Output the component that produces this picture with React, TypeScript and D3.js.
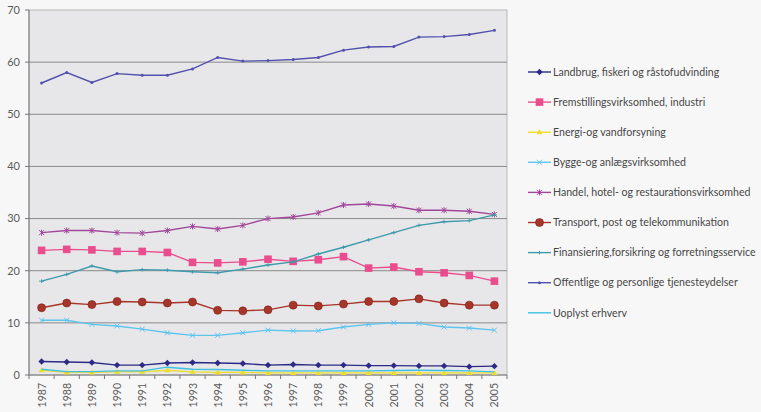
import React from "react";
import * as d3 from "d3";

const years = ["1987","1988","1989","1990","1991","1992","1993","1994","1995","1996","1997","1998","1999","2000","2001","2002","2003","2004","2005"];

const landbrug = [2.6,2.5,2.4,1.9,1.9,2.3,2.4,2.3,2.2,1.9,2.0,1.9,1.9,1.8,1.8,1.75,1.75,1.6,1.7];
const fremstilling = [23.9,24.1,24.0,23.7,23.7,23.5,21.6,21.5,21.7,22.2,21.8,22.1,22.7,20.5,20.7,19.8,19.6,19.1,18.0];
const energi = [0.9,0.5,0.5,0.6,0.6,0.9,0.6,0.5,0.5,0.4,0.4,0.4,0.4,0.4,0.4,0.4,0.4,0.4,0.4];
const bygge = [10.5,10.5,9.7,9.4,8.8,8.1,7.6,7.6,8.1,8.6,8.45,8.5,9.2,9.7,10.0,9.9,9.2,9.0,8.6];
const handel = [27.3,27.7,27.7,27.3,27.2,27.7,28.5,28.0,28.7,30.0,30.3,31.1,32.6,32.8,32.4,31.6,31.6,31.4,30.8];
const transport = [12.9,13.8,13.5,14.1,14.0,13.8,14.0,12.4,12.3,12.5,13.4,13.25,13.6,14.1,14.1,14.6,13.8,13.4,13.4];
const finansiering = [18.0,19.3,20.9,19.8,20.2,20.1,19.8,19.6,20.3,21.1,21.7,23.2,24.5,25.9,27.3,28.7,29.4,29.6,30.7];
const offentlige = [56.0,58.0,56.1,57.8,57.5,57.5,58.7,60.9,60.2,60.3,60.5,60.9,62.3,62.9,63.0,64.8,64.9,65.3,66.1];
const uoplyst = [1.1,0.65,0.65,0.8,0.8,1.5,1.1,1.05,0.9,0.8,0.8,0.8,0.8,0.8,0.85,0.9,0.85,0.8,0.6];

const yTicks = [0,10,20,30,40,50,60,70];

type Marker = "diamond" | "square" | "triangle" | "x" | "star" | "circle" | "dash" | "dot" | "none";

const series: { name: string; values: number[]; color: string; marker: Marker }[] = [
  { name: "Landbrug, fiskeri og råstofudvinding", values: landbrug, color: "#2c2a86", marker: "diamond" },
  { name: "Fremstillingsvirksomhed, industri", values: fremstilling, color: "#ea4d8e", marker: "square" },
  { name: "Energi-og vandforsyning", values: energi, color: "#eedc2a", marker: "triangle" },
  { name: "Bygge-og anlægsvirksomhed", values: bygge, color: "#5ec4ee", marker: "x" },
  { name: "Handel, hotel- og restaurationsvirksomhed", values: handel, color: "#a1479a", marker: "star" },
  { name: "Transport, post og telekommunikation", values: transport, color: "#a8352a", marker: "circle" },
  { name: "Finansiering,forsikring og forretningsservice", values: finansiering, color: "#3f9aac", marker: "dash" },
  { name: "Offentlige og personlige tjenesteydelser", values: offentlige, color: "#5350ad", marker: "dot" },
  { name: "Uoplyst erhverv", values: uoplyst, color: "#3fc0e2", marker: "none" },
];

const W = 761, H = 412;
const left = 29, right = 507, top = 10, bottom = 375;

function MarkerShape({ type, x, y, color }: { type: Marker; x: number; y: number; color: string }) {
  switch (type) {
    case "diamond":
      return <path d={`M${x},${y - 3.2}L${x + 3.2},${y}L${x},${y + 3.2}L${x - 3.2},${y}Z`} fill={color} />;
    case "square":
      return <rect x={x - 3.8} y={y - 3.8} width={7.6} height={7.6} fill={color} />;
    case "triangle":
      return <path d={`M${x},${y - 3}L${x + 3},${y + 2}L${x - 3},${y + 2}Z`} fill={color} />;
    case "x":
      return <path d={`M${x - 2.5},${y - 2.5}L${x + 2.5},${y + 2.5}M${x - 2.5},${y + 2.5}L${x + 2.5},${y - 2.5}`} stroke={color} strokeWidth={1} />;
    case "star":
      return <path d={`M${x - 2.5},${y - 2.5}L${x + 2.5},${y + 2.5}M${x - 2.5},${y + 2.5}L${x + 2.5},${y - 2.5}M${x},${y - 3}L${x},${y + 3}`} stroke={color} strokeWidth={1} />;
    case "circle":
      return <circle cx={x} cy={y} r={4} fill={color} stroke="#7a2018" strokeWidth={0.6} />;
    case "dash":
      return <path d={`M${x - 2.5},${y}L${x + 2.5},${y}M${x},${y - 1.8}L${x},${y + 1.8}`} stroke={color} strokeWidth={1} />;
    case "dot":
      return <circle cx={x} cy={y} r={1.5} fill={color} />;
    default:
      return null;
  }
}

export default function App() {
  const x = d3.scaleBand<string>().domain(years).range([left, right]);
  const y = d3.scaleLinear().domain([0, 70]).range([bottom, top]);
  const cx = (yr: string) => (x(yr) as number) + x.bandwidth() / 2;
  const line = d3.line<number>().x((_, i) => cx(years[i])).y((v) => y(v));
  const font = "Lato, 'Open Sans', sans-serif";

  return (
    <svg width={W} height={H} style={{ position: "absolute", left: 0, top: 0, background: "#f7f7f7" }}>
      <rect x={0} y={0} width={W} height={H} fill="#f7f7f7" />
      <rect x={left} y={top} width={right - left} height={bottom - top} fill="#e7e7e9" stroke="#b8b8b8" strokeWidth={1} />
      {yTicks.map((t) => (
        <g key={t}>
          {t > 0 && t < 70 && <line x1={left} x2={right} y1={y(t)} y2={y(t)} stroke="#8a8a8a" strokeWidth={1} />}
          <line x1={left - 4} x2={left} y1={y(t)} y2={y(t)} stroke="#777" />
          <text x={20} y={y(t)} dy="0.35em" textAnchor="end" fontSize={11} fill="#5a5a5a" fontFamily={font}>{t}</text>
        </g>
      ))}
      <line x1={left} x2={left} y1={top} y2={bottom} stroke="#777" />
      <line x1={left} x2={right} y1={bottom} y2={bottom} stroke="#777" />
      {years.map((yr, i) => (
        <g key={yr}>
          <line x1={x(yr) as number} x2={x(yr) as number} y1={bottom} y2={bottom + 4} stroke="#777" />
          {i === years.length - 1 && <line x1={right} x2={right} y1={bottom} y2={bottom + 4} stroke="#777" />}
          <text transform={`translate(${cx(yr) + 4},${bottom + 8}) rotate(-90)`} textAnchor="end" fontSize={10.5} fill="#5a5a5a" fontFamily={font}>{yr}</text>
        </g>
      ))}
      {series.map((s) => (
        <g key={s.name}>
          <path d={line(s.values) || ""} fill="none" stroke={s.color} strokeWidth={1.4} />
          {s.values.map((v, i) => (
            <MarkerShape key={i} type={s.marker} x={cx(years[i])} y={y(v)} color={s.color} />
          ))}
        </g>
      ))}
      {series.map((s, i) => {
        const ly = 72 + i * 30.1;
        return (
          <g key={s.name}>
            <line x1={528} x2={551} y1={ly} y2={ly} stroke={s.color} strokeWidth={1.4} />
            <MarkerShape type={s.marker} x={539.5} y={ly} color={s.color} />
            <text x={553} y={ly} dy="0.35em" fontSize={10.6} fill="#474747" fontFamily={font}>{s.name}</text>
          </g>
        );
      })}
    </svg>
  );
}
